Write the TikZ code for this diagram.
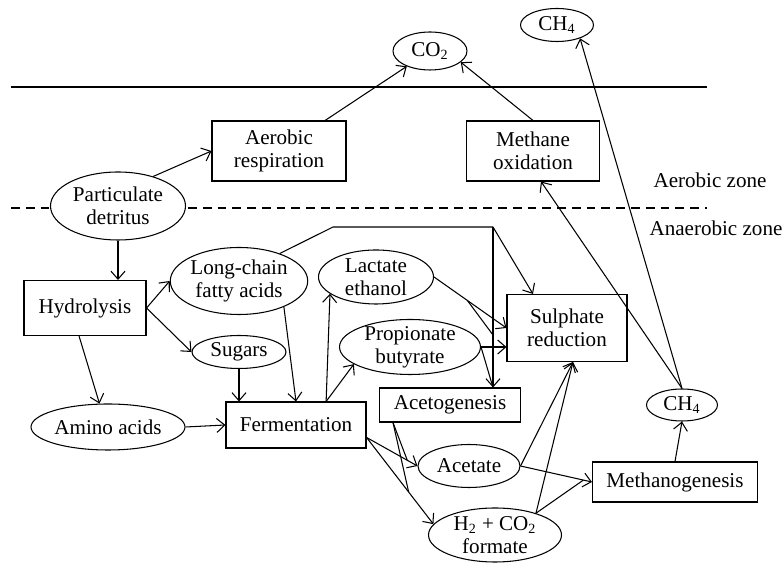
\documentclass[tikz,border=0pt]{standalone}
\usepackage{fontspec}
\setmainfont{Liberation Serif}
\usetikzlibrary{positioning, arrows.meta, shapes.geometric}
\tikzset{
  procbox/.style={
    draw, line width=0.6pt,
    fill=white,
    inner sep=0pt,
    align=center,
    font=\fontsize{12}{13}\selectfont
  },
  pool/.style={
    procbox,
    ellipse,
    inner ysep=-2pt
  },
  flow/.style={
    -{Straight Barb[length=1.6mm,width=2.8mm]},
    line width=0.6pt
  },
  zonelabel/.style={
    anchor=west,
    inner sep=0pt,
    font=\fontsize{12}{13}\selectfont
  }
}

\begin{document}
\begin{tikzpicture}[line width=0.6pt]
  \useasboundingbox (0,0) rectangle (15.64,11.26);

  \draw (0.22,9.52) -- (14.14,9.52);
  \draw[dash pattern=on 5pt off 3.4pt] (0.22,7.10) -- (14.14,7.10);
  \node[zonelabel] (aerzone) at (13.06,7.66) {Aerobic zone};
  \node[zonelabel] (anzone) at (12.98,6.70) {Anaerobic zone};

  \node[pool, minimum width=1.48cm, minimum height=0.76cm] (co2) at (8.60,10.24) {CO\textsubscript{2}};
  \node[pool, minimum width=1.46cm, minimum height=0.66cm] (ch4top) at (11.14,10.76) {CH\textsubscript{4}};
  \node[procbox, minimum width=2.68cm, minimum height=1.20cm] (aer) at (5.58,8.24) {Aerobic\\respiration};
  \node[procbox, minimum width=2.66cm, minimum height=1.20cm] (mox) at (10.66,8.24) {Methane\\oxidation};
  \node[pool, minimum width=2.70cm, minimum height=1.36cm] (det) at (2.36,7.14) {Particulate\\detritus};
  \node[procbox, minimum width=2.44cm, minimum height=1.10cm] (hyd) at (1.70,5.10) {Hydrolysis};
  \node[pool, minimum width=2.68cm, minimum height=1.34cm] (lcfa) at (4.78,5.64) {Long-chain\\fatty acids};
  \node[pool, minimum width=1.88cm, minimum height=0.66cm] (sug) at (4.78,4.22) {Sugars};
  \node[pool, minimum width=2.30cm, minimum height=1.08cm] (lac) at (7.52,5.72) {Lactate\\ethanol};
  \node[pool, minimum width=2.82cm, minimum height=1.10cm] (prop) at (8.20,4.32) {Propionate\\butyrate};
  \node[procbox, minimum width=2.40cm, minimum height=1.34cm] (sul) at (11.34,4.70) {Sulphate\\reduction};
  \node[procbox, minimum width=2.82cm, minimum height=0.68cm] (acg) at (9.00,3.16) {Acetogenesis};
  \node[pool, minimum width=3.08cm, minimum height=0.92cm] (amino) at (2.16,2.72) {Amino acids};
  \node[procbox, minimum width=2.80cm, minimum height=0.92cm] (fer) at (5.92,2.76) {Fermentation};
  \node[pool, minimum width=2.04cm, minimum height=0.86cm] (ace) at (9.38,1.94) {Acetate};
  \node[pool, minimum width=2.66cm, minimum height=1.08cm] (h2) at (9.90,0.56) {H\textsubscript{2} + CO\textsubscript{2}\\formate};
  \node[procbox, minimum width=3.30cm, minimum height=0.80cm] (meth) at (13.50,1.62) {Methanogenesis};
  \node[pool, minimum width=1.42cm, minimum height=0.64cm] (ch4low) at (13.64,3.16) {CH\textsubscript{4}};

  \coordinate (lcbend) at (6.66,6.72);
  \coordinate (lcfork) at (9.86,6.72);
  \coordinate (lacjoin) at (9.86,4.56);
  \coordinate (acgout) at ([xshift=0.28cm]acg.south west);

  \draw[flow] (det.40) -- (aer.west);
  \draw[flow] (aer) -- (co2);
  \draw[flow] (mox.north) -- (co2.-20);
  \draw[flow] (ch4low.north) -- ([xshift=0.16cm]mox.south);
  \draw[flow] (ch4low.north) -- (ch4top.-30);

  \draw[flow] (det.south) -- (det.south |- hyd.north);
  \draw[flow] (hyd.east) -- (lcfa.west);
  \draw[flow] (hyd.east) -- (sug.west);
  \draw[flow] (hyd.258) -- (amino.110);
  \draw[flow] (amino.east) -- (fer.west);
  \draw[flow] (sug.south) -- (sug.south |- fer.north);
  \draw[flow] (lcfa.-30) -- (fer.north);

  \draw (lcfa.34) -- (lcbend) -- (lcfork);
  \draw[flow] (lcfork) -- (sul.135);
  \draw[flow] (lcfork) -- (lcfork |- acg.north);
  \draw[flow] (lac.east) -- coordinate[pos=0.46] (lacfork) (sul.west);
  \draw (lacfork) -- (lacjoin);
  \draw[flow] (prop.east) -- (prop.east -| sul.west);
  \draw (prop.east) -- (lcfork |- acg.north);

  \draw[flow] (fer.38) -- (lac.200);
  \draw[flow] (fer.38) -- (prop.197);
  \draw[flow] (fer.-10) -- coordinate[pos=0.8] (acejoin) (ace.west);
  \draw[flow] (fer.-10) -- coordinate[pos=0.63] (h2join) (h2.170);
  \draw (acgout) -- (acejoin);
  \draw (acgout) -- (h2join);

  \draw[flow] (ace.east) -- coordinate[pos=0.88] (methjoin) (meth.west);
  \draw (h2.28) -- (methjoin);
  \draw[flow] (ace.east) -- (sul.-80);
  \draw[flow] (h2.28) -- (sul.-80);
  \draw[flow] (meth.north) -- (ch4low.south);
\end{tikzpicture}
\end{document}
